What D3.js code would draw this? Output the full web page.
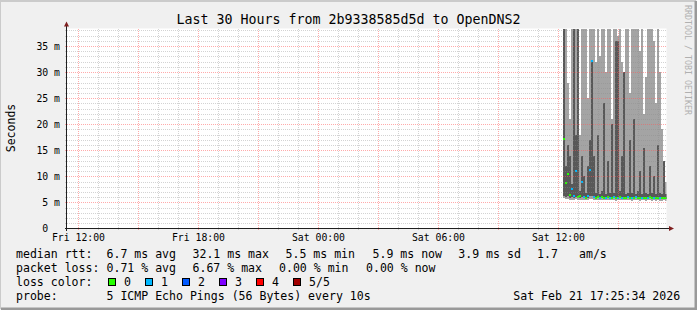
<!DOCTYPE html>
<html>
<head>
<meta charset="utf-8">
<script src="https://cdn.jsdelivr.net/npm/d3@7"></script>
<style>
  body { margin: 0; background: #f0f0f0; }
  text { font-family: "DejaVu Sans Mono", monospace; white-space: pre; }
</style>
</head>
<body>
<div id="chart"></div>
<script>
// Smokeping style latency graph, last 30 hours

// time window of the graph
const startTime = new Date(2026, 1, 20, 11, 25, 34);
const endTime = new Date(2026, 1, 21, 17, 25, 34);
// first measured slot and slot length (minutes)
const firstSlot = new Date(2026, 1, 21, 12, 15, 0);
const stepMinutes = 6;

// ping values per slot, ms (5 pings sorted: min, low, median, high, max)
const pingMax = [29, 40, 28, 21, 40, 40, 40, 40, 18, 40, 40, 40, 25, 40, 40, 40, 32, 40, 33, 40,
                 40, 30, 40, 40, 21, 40, 40, 37, 40, 32, 30, 40, 40, 26, 40, 40, 40, 40, 34, 40,
                 22, 29, 40, 40, 40, 36, 24, 40, 30, 19, 13, 9];
const pingHigh = [40, 12, 16, 14, 8.5, 40, 18, 40, 7.2, 14, 10, 6.8, 12, 17, 32, 14, 6.8, 18, 6.6, 7.2,
                  24, 6.6, 13, 6.8, 20, 6.8, 36, 36, 7.2, 14, 30, 6.6, 6.8, 17, 6.8, 21, 6.6, 7.2, 11, 6.6,
                  15.5, 6.8, 6.6, 12, 6.8, 10, 6.6, 16, 6.8, 6.6, 13, 6.6];
const pingMedian = [17.2, 8.8, 10.5, 6.4, 7.5, 6.2, 11.0, 6.0, 6.3, 8.9, 6.0, 5.8, 6.2, 11.2, 32.1, 6.0, 5.9, 6.0, 5.9, 6.0,
                    5.9, 5.8, 6.0, 5.9, 5.9, 6.0, 5.8, 5.9, 6.0, 5.9, 5.8, 5.9, 6.0, 5.9, 5.8, 5.9, 6.0, 5.9, 5.8, 5.9,
                    5.9, 5.8, 5.9, 6.0, 5.8, 5.9, 5.8, 5.9, 5.8, 5.8, 5.9, 5.8];
const pingLow = [6.3, 6.0, 6.2, 5.9, 6.0, 5.9, 6.1, 5.8, 5.9, 6.0, 5.8, 5.7, 5.9, 6.2, 6.3, 5.8, 5.7, 5.8, 5.7, 5.8,
                 5.7, 5.6, 5.8, 5.7, 5.7, 5.8, 5.6, 5.7, 5.8, 5.7, 5.6, 5.7, 5.8, 5.7, 5.6, 5.7, 5.8, 5.7, 5.6, 5.7,
                 5.7, 5.6, 5.7, 5.8, 5.6, 5.7, 5.6, 5.7, 5.6, 5.6, 5.7, 5.6];
const pingMin = [5.9, 5.6, 5.7, 5.5, 5.5, 5.4, 5.6, 5.4, 5.5, 5.5, 5.4, 5.4, 5.5, 5.6, 5.6, 5.5, 5.4, 5.5, 5.4, 5.5,
                 5.4, 5.4, 5.5, 5.4, 5.4, 5.5, 5.3, 5.4, 5.5, 5.4, 5.4, 5.4, 5.5, 5.4, 5.3, 5.4, 5.5, 5.4, 5.3, 5.4,
                 5.4, 5.3, 5.4, 5.5, 5.3, 5.4, 5.3, 5.4, 5.3, 5.3, 5.4, 5.3];
// lost pings per slot (out of 5)
const lossCount = [0, 0, 0, 0, 1, 1, 1, 0, 0, 1, 1, 0, 1, 1, 1, 1, 0, 0, 1, 0,
                   0, 1, 0, 1, 0, 1, 0, 1, 0, 1, 0, 0, 1, 0, 1, 0, 1, 0, 0, 1,
                   0, 0, 1, 0, 0, 1, 0, 0, 1, 0, 0, 0];

// loss legend
const lossLabels = ["0", "1", "2", "3", "4", "5/5"];
const lossColors = ["#26ff00", "#00b8ff", "#0059ff", "#7e00ff", "#ff0000", "#a10000"];

// legend text
const rttItems = ["median rtt:", "6.7 ms avg", "32.1 ms max", "5.5 ms min", "5.9 ms now", "3.9 ms sd", "1.7", "am/s"];
const lossItems = ["packet loss:", "0.71 % avg", "6.67 % max", "0.00 % min", "0.00 % now"];
const probeText = "5 ICMP Echo Pings (56 Bytes) every 10s";
const stampText = "Sat Feb 21 17:25:34 2026";
const titleText = "Last 30 Hours from 2b9338585d5d to OpenDNS2";

const slots = pingMax.map((v, i) => ({
    t: d3.timeMinute.offset(firstSlot, i * stepMinutes),
    max: v, high: pingHigh[i], median: pingMedian[i],
    low: pingLow[i], min: pingMin[i], loss: lossCount[i]
}));

const width = 697, height = 310;
const plot = {left: 66.5, right: 666.5, top: 28.5, bottom: 228.5};

const svg = d3.select("#chart").append("svg")
    .attr("width", width)
    .attr("height", height);

// background with 3d frame
svg.append("rect").attr("width", width).attr("height", height).attr("fill", "#f0f0f0");
svg.append("path").attr("d", `M0,${height - 1}V1H${width - 1}`)
    .attr("fill", "none").attr("stroke", "#cbcbcb").attr("stroke-width", 2);
svg.append("path").attr("d", `M1,${height - 1}H${width - 1}V1`)
    .attr("fill", "none").attr("stroke", "#999999").attr("stroke-width", 3);

const x = d3.scaleTime().domain([startTime, endTime]).range([plot.left, plot.right]);
const y = d3.scaleLinear().domain([0, 38.36]).range([plot.bottom, plot.top]).clamp(true);

// white canvas
svg.append("rect")
    .attr("x", plot.left).attr("y", plot.top)
    .attr("width", plot.right - plot.left).attr("height", plot.bottom - plot.top)
    .attr("fill", "#ffffff");

svg.append("clipPath").attr("id", "plotclip")
    .append("rect")
    .attr("x", plot.left).attr("y", plot.top)
    .attr("width", plot.right - plot.left).attr("height", plot.bottom - plot.top);

const g = svg.append("g").attr("clip-path", "url(#plotclip)");
const colW = d => x(d3.timeMinute.offset(d.t, stepMinutes)) - x(d.t);

// outer smoke band (min..max)
g.selectAll("rect.outer").data(slots).enter().append("rect")
    .attr("class", "outer")
    .attr("x", d => x(d.t)).attr("width", colW)
    .attr("y", d => y(d.max)).attr("height", d => y(d.min) - y(d.max))
    .attr("fill", "#a4a4a4").attr("shape-rendering", "crispEdges");

// inner smoke band (low..high)
g.selectAll("rect.inner").data(slots).enter().append("rect")
    .attr("class", "inner")
    .attr("x", d => x(d.t)).attr("width", colW)
    .attr("y", d => y(d.high)).attr("height", d => y(d.low) - y(d.high))
    .attr("fill", "#585858").attr("shape-rendering", "crispEdges");

// median, coloured by loss
g.selectAll("rect.median").data(slots).enter().append("rect")
    .attr("class", "median")
    .attr("x", d => x(d.t)).attr("width", colW)
    .attr("y", d => y(d.median) - 1).attr("height", 2)
    .attr("fill", d => lossColors[d.loss]).attr("shape-rendering", "crispEdges");

// grid (semi transparent, over the data like rrdtool)
const minorY = d3.range(1, 39).filter(v => v % 5 !== 0);
const majorY = d3.range(5, 39, 5);
const minorX = x.ticks(d3.timeHour.every(1)).filter(t => t.getHours() % 3 !== 0);
const majorX = x.ticks(d3.timeHour.every(3));
const grid = svg.append("g").attr("shape-rendering", "crispEdges");
const minorColor = "rgba(140,140,140,0.38)";
const majorColor = "rgba(255,86,86,0.5)";

grid.selectAll("line.ymin").data(minorY).enter().append("line")
    .attr("x1", plot.left - 2).attr("x2", plot.right)
    .attr("y1", d => Math.round(y(d)) + 0.5).attr("y2", d => Math.round(y(d)) + 0.5)
    .attr("stroke", minorColor).attr("stroke-dasharray", "1,1");
grid.selectAll("line.xmin").data(minorX).enter().append("line")
    .attr("x1", d => Math.round(x(d)) + 0.5).attr("x2", d => Math.round(x(d)) + 0.5)
    .attr("y1", plot.top).attr("y2", plot.bottom + 2)
    .attr("stroke", minorColor).attr("stroke-dasharray", "1,1");
grid.selectAll("line.ymaj").data(majorY).enter().append("line")
    .attr("x1", plot.left - 2).attr("x2", plot.right)
    .attr("y1", d => Math.round(y(d)) + 0.5).attr("y2", d => Math.round(y(d)) + 0.5)
    .attr("stroke", majorColor).attr("stroke-dasharray", "1,1");
grid.selectAll("line.xmaj").data(majorX).enter().append("line")
    .attr("x1", d => Math.round(x(d)) + 0.5).attr("x2", d => Math.round(x(d)) + 0.5)
    .attr("y1", plot.top).attr("y2", plot.bottom + 2)
    .attr("stroke", majorColor).attr("stroke-dasharray", "1,1");

// axes
svg.append("line")
    .attr("x1", plot.left - 2).attr("x2", plot.right + 3)
    .attr("y1", plot.bottom).attr("y2", plot.bottom)
    .attr("stroke", "#1f1f1f").attr("shape-rendering", "crispEdges");
svg.append("line")
    .attr("x1", plot.left).attr("x2", plot.left)
    .attr("y1", plot.bottom + 2).attr("y2", plot.top - 3)
    .attr("stroke", "#1f1f1f").attr("shape-rendering", "crispEdges");
svg.append("path")
    .attr("d", `M${plot.left - 2.5},${plot.top - 2}L${plot.left + 2.5},${plot.top - 2}L${plot.left},${plot.top - 7}Z`)
    .attr("fill", "#7f1f1f");
svg.append("path")
    .attr("d", `M${plot.right + 2.5},${plot.bottom - 2.5}L${plot.right + 2.5},${plot.bottom + 2.5}L${plot.right + 7.5},${plot.bottom}Z`)
    .attr("fill", "#7f1f1f");

// y tick labels
svg.selectAll("text.ylab").data(d3.range(0, 39, 5)).enter().append("text")
    .attr("x", 60).attr("y", d => y(d) + 3.5)
    .attr("text-anchor", "end")
    .style("font-size", "9.8px")
    .text(d => d === 0 ? "0\u00a0\u00a0" : d + " m");

// x tick labels
svg.selectAll("text.xlab").data(x.ticks(d3.timeHour.every(6))).enter().append("text")
    .attr("x", d => x(d) + 0.5).attr("y", 241)
    .attr("text-anchor", "middle")
    .style("font-size", "9.8px")
    .text(d3.timeFormat("%a %H:%M"));

// title and axis label
svg.append("text")
    .attr("x", 348.5).attr("y", 24)
    .attr("text-anchor", "middle")
    .style("font-size", "13.3px")
    .text(titleText);

svg.append("text")
    .attr("transform", "translate(15,128) rotate(-90)")
    .attr("text-anchor", "middle")
    .style("font-size", "11.5px")
    .text("Seconds");

// watermark
svg.append("text")
    .attr("transform", "translate(685,5) rotate(90)")
    .style("font-size", "8.3px")
    .attr("fill", "#b0b0b0")
    .text("RRDTOOL / TOBI OETIKER");

// legend
const legendFont = "11.55px";
const rttX = [16, 106.5, 192.5, 285.5, 372.5, 458.3, 537, 579];
const lossX = [16, 106.5, 192.5, 279, 366];

rttItems.forEach((s, i) => {
    svg.append("text").attr("x", rttX[i]).attr("y", 258)
        .style("font-size", legendFont).text(s);
});
lossItems.forEach((s, i) => {
    svg.append("text").attr("x", lossX[i]).attr("y", 272)
        .style("font-size", legendFont).text(s);
});

svg.append("text").attr("x", 16).attr("y", 286)
    .style("font-size", legendFont).text("loss color:");
lossLabels.forEach((s, i) => {
    svg.append("rect")
        .attr("x", 108.5 + i * 37).attr("y", 278.5)
        .attr("width", 7).attr("height", 7)
        .attr("fill", lossColors[i])
        .attr("stroke", "#000").attr("stroke-width", 1);
    svg.append("text").attr("x", 124 + i * 37).attr("y", 286)
        .style("font-size", legendFont).text(s);
});

svg.append("text").attr("x", 16).attr("y", 300)
    .style("font-size", legendFont).text("probe:");
svg.append("text").attr("x", 106.5).attr("y", 300)
    .style("font-size", legendFont).text(probeText);
svg.append("text").attr("x", 513.3).attr("y", 300)
    .style("font-size", legendFont).text(stampText);
</script>
</body>
</html>
